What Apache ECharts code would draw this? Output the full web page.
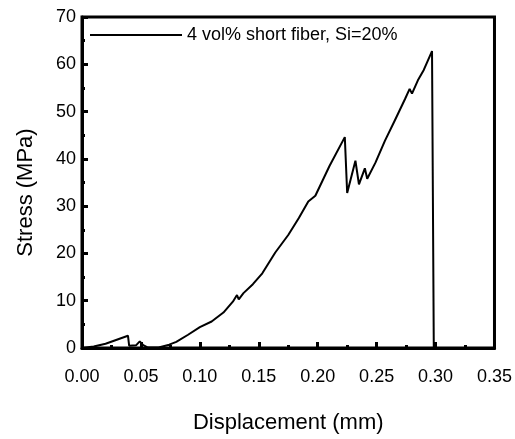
<!DOCTYPE html>
<html>
<head>
<meta charset="utf-8">
<script src="https://cdn.jsdelivr.net/npm/echarts@6/dist/echarts.min.js"></script>
<style>
  html, body { margin: 0; padding: 0; background: #fff; }
  #chart { width: 515px; height: 439px; }
</style>
</head>
<body>
<div id="chart"></div>
<script>
// displacement (mm) / stress (MPa)
const displacement = [0, 0.010, 0.020, 0.039, 0.040, 0.046, 0.049, 0.052, 0.056, 0.065,
  0.074, 0.080, 0.090, 0.100, 0.110, 0.120, 0.128, 0.1315, 0.133, 0.137,
  0.145, 0.153, 0.164, 0.175, 0.184, 0.192, 0.198, 0.210, 0.223, 0.225,
  0.232, 0.235, 0.240, 0.242, 0.249, 0.257, 0.265, 0.274, 0.278, 0.280,
  0.285, 0.290, 0.297, 0.2985]
const stress = [0, 0.3, 0.9, 2.6, 0.5, 0.6, 1.4, 0.6, 0.1, 0.1,
  0.7, 1.3, 2.8, 4.4, 5.6, 7.5, 9.8, 11.2, 10.3, 11.6,
  13.5, 15.8, 20.2, 23.9, 27.5, 31.0, 32.2, 38.5, 44.6, 32.8,
  39.6, 34.6, 38.0, 35.8, 39.2, 43.8, 47.9, 52.6, 54.8, 53.8,
  56.6, 58.8, 62.8, 0]
const seriesName = '4 vol% short fiber, Si=20%'

const font = 'Liberation Sans, Arial, sans-serif'

const chart = echarts.init(document.getElementById('chart'))

chart.setOption({
  animation: false,
  grid: {
    left: 82,
    right: 18,
    top: 17,
    bottom: 85,
    show: true,
    borderColor: '#000',
    borderWidth: 3
  },
  legend: {
    left: 85,
    top: 21,
    icon: 'rect',
    itemWidth: 92,
    itemHeight: 2,
    textStyle: { fontFamily: font, fontSize: 18, color: '#000' },
    data: [seriesName]
  },
  xAxis: {
    type: 'value',
    min: 0,
    max: 0.35,
    interval: 0.05,
    name: 'Displacement (mm)',
    nameLocation: 'middle',
    nameGap: 64,
    nameTextStyle: { fontFamily: font, fontSize: 22, color: '#000' },
    axisLine: { lineStyle: { color: '#000', width: 3 } },
    axisTick: { inside: true, length: 6, lineStyle: { color: '#000', width: 3 } },
    minorTick: { show: true, splitNumber: 2, length: 3, lineStyle: { color: '#000', width: 3 } },
    splitLine: { show: false },
    axisLabel: {
      margin: 20,
      fontFamily: font,
      fontSize: 18,
      color: '#000',
      formatter: v => v.toFixed(2)
    }
  },
  yAxis: {
    type: 'value',
    min: 0,
    max: 70,
    interval: 10,
    name: 'Stress (MPa)',
    nameLocation: 'middle',
    nameGap: 45,
    // right padding nudges the rotated title a little lower, as in the figure
    nameTextStyle: { fontFamily: font, fontSize: 22, color: '#000', padding: [0, 20, 0, 0] },
    axisLine: { show: true, lineStyle: { color: '#000', width: 3 } },
    axisTick: { show: true, inside: true, length: 6, lineStyle: { color: '#000', width: 3 } },
    minorTick: { show: true, splitNumber: 2, length: 3, lineStyle: { color: '#000', width: 3 } },
    splitLine: { show: false },
    axisLabel: { margin: 6, fontFamily: font, fontSize: 18, color: '#000' }
  },
  series: [{
    name: seriesName,
    type: 'line',
    showSymbol: false,
    symbol: 'none',
    lineStyle: { color: '#000', width: 2 },
    itemStyle: { color: '#000' },
    data: displacement.map((d, i) => [d, stress[i]])
  }]
})
</script>
</body>
</html>
